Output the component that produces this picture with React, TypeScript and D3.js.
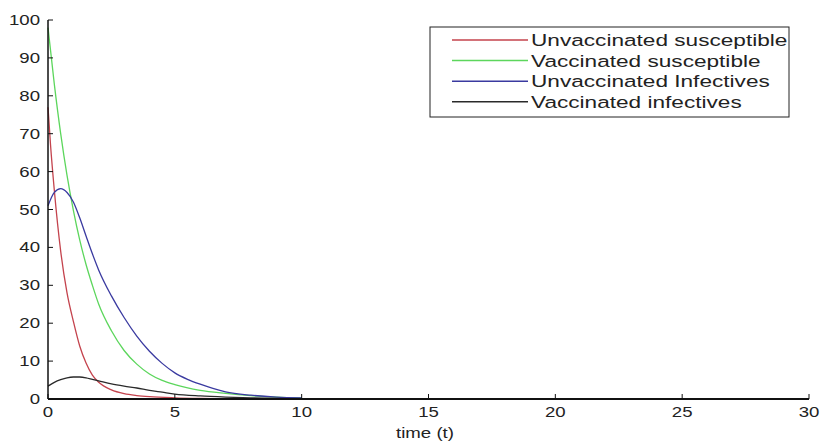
import React from "react";
import * as d3 from "d3";

const tRed = [0, 0.1, 0.25, 0.5, 0.75, 1, 1.25, 1.5, 1.75, 2, 2.5, 3, 3.5, 4, 5, 6, 7, 8, 9, 10];
const unvaccSusceptible = [77, 67, 55, 39, 28, 20.5, 14, 9.5, 6.3, 4.4, 2.4, 1.4, 0.9, 0.6, 0.3, 0.15, 0.08, 0.04, 0.02, 0.01];

const tGreen = [0, 0.25, 0.5, 0.75, 1, 1.25, 1.5, 1.75, 2, 2.5, 3, 3.5, 4, 4.5, 5, 6, 7, 8, 9, 10];
const vaccSusceptible = [98, 83, 70, 59, 49.8, 42, 35.5, 30, 25, 18, 12.8, 9.2, 6.6, 4.9, 3.8, 2.3, 1.5, 0.9, 0.5, 0.3];

const tBlue = [0, 0.25, 0.5, 0.75, 1, 1.25, 1.5, 1.75, 2, 2.5, 3, 3.5, 4, 4.5, 5, 5.5, 6, 6.5, 7, 8, 9, 10];
const unvaccInfectives = [51, 54.5, 55.5, 54.5, 52, 47.8, 43, 38.3, 34, 27.2, 21.5, 16.6, 12.6, 9.4, 6.9, 5.2, 3.9, 2.8, 1.9, 1.0, 0.5, 0.3];

const tBlack = [0, 0.25, 0.5, 0.75, 1, 1.25, 1.5, 1.75, 2, 2.5, 3, 3.5, 4, 4.5, 5, 6, 7, 8, 9, 10];
const vaccInfectives = [3.4, 4.4, 5.1, 5.6, 5.8, 5.8, 5.6, 5.2, 4.8, 4.0, 3.4, 2.9, 2.3, 1.8, 1.3, 0.8, 0.5, 0.3, 0.15, 0.1];

const xTicks = [0, 5, 10, 15, 20, 25, 30];
const yTicks = [0, 10, 20, 30, 40, 50, 60, 70, 80, 90, 100];

const seriesNames = [
  "Unvaccinated susceptible",
  "Vaccinated susceptible",
  "Unvaccinated Infectives",
  "Vaccinated infectives",
];
const seriesColors = ["#c4434d", "#5cd65c", "#3a3aa0", "#2a2a2a"];

const FONT = "Arial, 'Liberation Sans', sans-serif";
const SX = 1.33;

function SText(props: { x: number; y: number; size: number; anchor: string; children: React.ReactNode }) {
  const { x, y, size, anchor, children } = props;
  return (
    <text
      transform={`translate(${x},${y}) scale(${SX},1)`}
      fontFamily={FONT}
      fontSize={size}
      textAnchor={anchor}
      dominantBaseline="central"
      fill="#222"
    >
      {children}
    </text>
  );
}

export default function App() {
  const W = 823;
  const H = 448;
  const left = 48;
  const right = 809;
  const top = 20;
  const bottom = 399;

  const x = d3.scaleLinear().domain([0, 30]).range([left, right]);
  const y = d3.scaleLinear().domain([0, 100]).range([bottom, top]);

  const line = d3
    .line<[number, number]>()
    .x((d) => x(d[0]))
    .y((d) => y(d[1]))
    .curve(d3.curveMonotoneX);

  const series: [number[], number[]][] = [
    [tRed, unvaccSusceptible],
    [tGreen, vaccSusceptible],
    [tBlue, unvaccInfectives],
    [tBlack, vaccInfectives],
  ];

  const legendX = 430;
  const legendY = 27;
  const legendW = 359;
  const legendH = 90;

  return (
    <svg
      width={W}
      height={H}
      style={{ position: "absolute", left: 0, top: 0, background: "#fff" }}
    >
      <rect x={0} y={0} width={W} height={H} fill="#fff" />
      {series.map(([ts, vs], i) => (
        <path
          key={i}
          d={line(ts.map((t, j) => [t, vs[j]] as [number, number])) || ""}
          fill="none"
          stroke={seriesColors[i]}
          strokeWidth={1.3}
        />
      ))}
      {/* axes */}
      <line x1={left} x2={left} y1={top} y2={bottom} stroke="#111" strokeWidth={1.5} />
      <line x1={left} x2={right} y1={bottom} y2={bottom} stroke="#111" strokeWidth={2} />
      {xTicks.map((t) => (
        <g key={"x" + t}>
          <line x1={x(t)} x2={x(t)} y1={bottom} y2={bottom - 5} stroke="#111" strokeWidth={1} />
          <SText x={x(t)} y={412} size={14} anchor="middle">
            {t}
          </SText>
        </g>
      ))}
      {yTicks.map((v) => (
        <g key={"y" + v}>
          <line x1={left} x2={left + 5} y1={y(v)} y2={y(v)} stroke="#111" strokeWidth={1} />
          <SText x={40} y={y(v)} size={14} anchor="end">
            {v}
          </SText>
        </g>
      ))}
      <SText x={425} y={433} size={14} anchor="middle">
        time (t)
      </SText>
      {/* legend */}
      <rect
        x={legendX}
        y={legendY}
        width={legendW}
        height={legendH}
        fill="#fff"
        stroke="#222"
        strokeWidth={1}
      />
      {seriesNames.map((name, i) => {
        const ly = 40 + i * 20.6;
        return (
          <g key={name}>
            <line x1={452} x2={528} y1={ly} y2={ly} stroke={seriesColors[i]} strokeWidth={1.5} />
            <SText x={531} y={ly} size={17} anchor="start">
              {name}
            </SText>
          </g>
        );
      })}
    </svg>
  );
}
